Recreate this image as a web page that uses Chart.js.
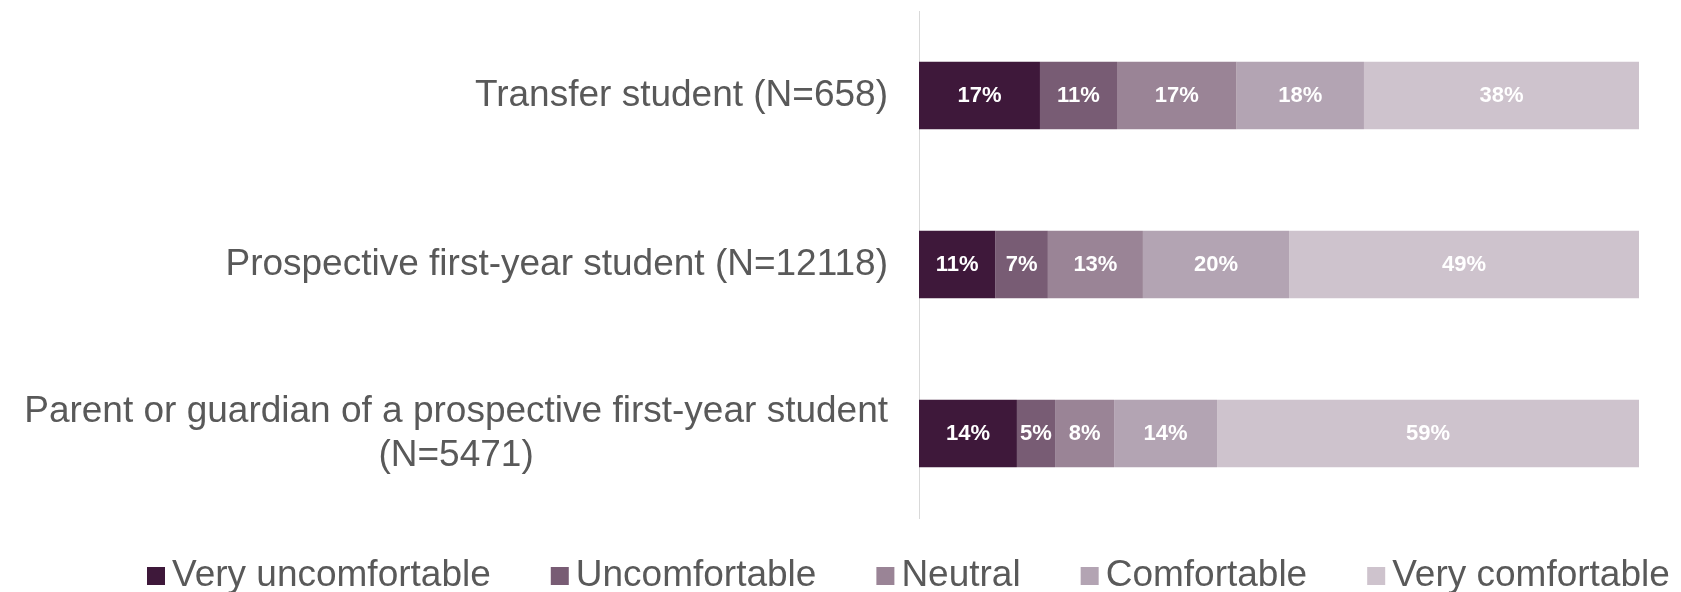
<!DOCTYPE html>
<html>
<head>
<meta charset="utf-8">
<script src="https://cdn.jsdelivr.net/npm/chart.js"></script>
<style>
  html, body { margin: 0; padding: 0; background: #fff; }
  canvas { display: block; }
</style>
</head>
<body>
<canvas id="myChartBar" width="1681" height="592"></canvas>
<script>
const categories = [
  "Transfer student (N=658)",
  "Prospective first-year student (N=12118)",
  ["Parent or guardian of a prospective first-year student", "(N=5471)"],
];
const responses = ["Very uncomfortable", "Uncomfortable", "Neutral", "Comfortable", "Very comfortable"];

// % of respondents per category (rows follow categories)
const veryUncomfortable = [16.8, 10.6, 13.6];
const uncomfortable = [10.7, 7.3, 5.3];
const neutral = [16.6, 13.2, 8.2];
const comfortable = [17.7, 20.3, 14.3];
const veryComfortable = [38.2, 48.6, 58.6];

const colors = ["#3E183A", "#785C74", "#9A8496", "#B3A4B3", "#CEC3CD"];
const FONT = "'Liberation Sans', Arial, sans-serif";

// white % labels in the middle of each segment
const barLabels = {
  id: "barLabels",
  afterDatasetsDraw(chart) {
    const ctx = chart.ctx;
    ctx.save();
    ctx.font = "bold 22px " + FONT;
    ctx.fillStyle = "#ffffff";
    ctx.textAlign = "center";
    ctx.textBaseline = "middle";
    chart.data.datasets.forEach((ds, i) => {
      chart.getDatasetMeta(i).data.forEach((bar, j) => {
        ctx.fillText(Math.round(ds.data[j]) + "%", (bar.x + bar.base) / 2, bar.y);
      });
    });
    ctx.restore();
  },
};

// category names: block right aligned, lines centred inside the block
const categoryLabels = {
  id: "categoryLabels",
  afterDraw(chart) {
    const ctx = chart.ctx;
    const scale = chart.scales.y;
    ctx.save();
    ctx.font = "37px " + FONT;
    ctx.fillStyle = "#595959";
    ctx.textAlign = "center";
    ctx.textBaseline = "middle";
    chart.data.labels.forEach((label, i) => {
      const lines = [].concat(label);
      const w = Math.max(...lines.map((l) => ctx.measureText(l).width));
      const cx = scale.right - 31 - w / 2;
      const y0 = scale.getPixelForTick(i) - (lines.length - 1) * 22;
      lines.forEach((l, k) => ctx.fillText(l, cx, y0 + k * 44));
    });
    ctx.restore();
  },
};

const bottomLegend = {
  id: "bottomLegend",
  afterDraw(chart) {
    const ctx = chart.ctx;
    ctx.save();
    ctx.font = "37px " + FONT;
    ctx.textAlign = "left";
    ctx.textBaseline = "middle";
    let x = 147;
    const y = 576;
    chart.data.datasets.forEach((ds) => {
      ctx.fillStyle = ds.backgroundColor;
      ctx.fillRect(x, y - 9, 18, 18);
      ctx.fillStyle = "#595959";
      ctx.fillText(ds.label, x + 25, y);
      x += 25 + ctx.measureText(ds.label).width + 60;
    });
    ctx.restore();
  },
};

const canvas_bar = document.getElementById("myChartBar");
let myChart_bar = new Chart(canvas_bar, {
  type: "bar",
  data: {
    labels: categories,
    datasets: [veryUncomfortable, uncomfortable, neutral, comfortable, veryComfortable].map((d, i) => ({
      label: responses[i],
      data: d,
      backgroundColor: colors[i],
      borderWidth: 0,
      barPercentage: 0.8,
      categoryPercentage: 0.5,
    })),
  },
  options: {
    indexAxis: "y",
    responsive: false,
    animation: false,
    events: [],
    layout: { padding: { top: 11, right: 42, bottom: 74, left: 0 } },
    scales: {
      x: { stacked: true, min: 0, max: 100, display: false },
      y: {
        stacked: true,
        ticks: { display: false },
        grid: { display: false },
        border: { display: true, color: "#D9D9D9", width: 1 },
        afterFit(scale) {
          scale.width = 919;
        },
      },
    },
    plugins: {
      legend: { display: false },
      tooltip: { enabled: false },
    },
  },
  plugins: [barLabels, categoryLabels, bottomLegend],
});
</script>
</body>
</html>
